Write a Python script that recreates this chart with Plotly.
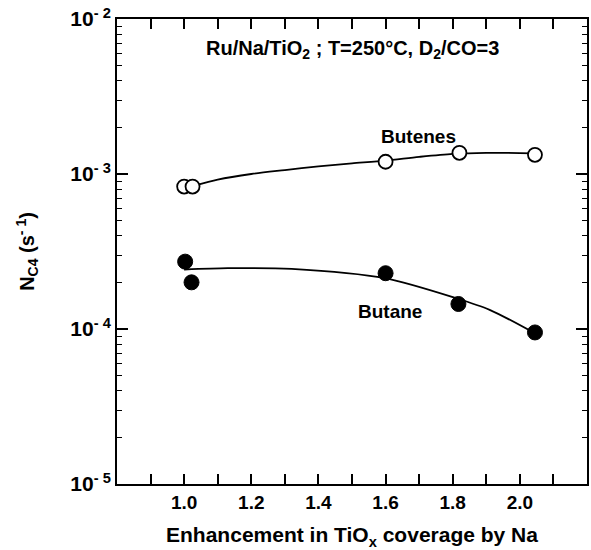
import plotly.graph_objects as go

# Measured points
butenes_x = [1.00, 1.025, 1.60, 1.82, 2.045]
butenes_y = [8.3e-4, 8.3e-4, 1.20e-3, 1.37e-3, 1.33e-3]
butane_x = [1.003, 1.022, 1.60, 1.817, 2.045]
butane_y = [2.72e-4, 2.0e-4, 2.29e-4, 1.45e-4, 9.5e-5]

# Fitted curves
butenes_fit_x = [1.03, 1.1, 1.2, 1.3, 1.4, 1.5, 1.6, 1.7, 1.8, 1.9, 2.04]
butenes_fit_y = [8.4e-4, 9.2e-4, 1.0e-3, 1.06e-3, 1.12e-3, 1.17e-3, 1.22e-3, 1.29e-3, 1.35e-3, 1.37e-3, 1.36e-3]
butane_fit_x = [1.00, 1.13, 1.32, 1.6, 1.81, 1.91, 2.04]
butane_fit_y = [2.42e-4, 2.47e-4, 2.44e-4, 2.12e-4, 1.58e-4, 1.33e-4, 9.5e-5]

x_tickvals = [1.0, 1.2, 1.4, 1.6, 1.8, 2.0]
x_ticktext = ["1.0", "1.2", "1.4", "1.6", "1.8", "2.0"]
y_tickvals = [1e-5, 1e-4, 1e-3, 1e-2]
y_ticktext = ["10<sup>- 5</sup>", "10<sup>- 4</sup>", "10<sup>- 3</sup>", "10<sup>- 2</sup>"]
y_minor_vals = [m * d for d in (1e-5, 1e-4, 1e-3) for m in range(2, 10)]

FONT = "Liberation Sans, Arial, sans-serif"

fig = go.Figure()
fig.add_trace(go.Scatter(x=butenes_fit_x, y=butenes_fit_y, mode="lines",
                         line=dict(color="black", width=1.8, shape="spline", smoothing=0.8), showlegend=False))
fig.add_trace(go.Scatter(x=butane_fit_x, y=butane_fit_y, mode="lines",
                         line=dict(color="black", width=1.8, shape="spline", smoothing=0.8), showlegend=False))
fig.add_trace(go.Scatter(x=butenes_x, y=butenes_y, mode="markers",
                         marker=dict(symbol="circle", size=14, color="white",
                                     line=dict(color="black", width=1.8)), showlegend=False))
fig.add_trace(go.Scatter(x=butane_x, y=butane_y, mode="markers",
                         marker=dict(symbol="circle", size=15, color="black",
                                     line=dict(color="black", width=1)), showlegend=False))

fig.add_annotation(x=0.5, xref="paper", y=0.935, yref="paper", yanchor="middle",
                   text="<b>Ru/Na/TiO<sub>2</sub> ; T=250°C, D<sub>2</sub>/CO=3</b>",
                   showarrow=False, font=dict(size=20, color="black", family=FONT))
fig.add_annotation(x=1.698, y=-2.755, text="<b>Butenes</b>", showarrow=False,
                   font=dict(size=19, color="black", family=FONT))
fig.add_annotation(x=1.614, y=-3.89, text="<b>Butane</b>", showarrow=False,
                   font=dict(size=19, color="black", family=FONT))

fig.update_xaxes(range=[0.8, 2.2], tickvals=x_tickvals, ticktext=[f"<b>{t}</b>" for t in x_ticktext],
                 ticks="inside", ticklen=10, tickwidth=1.6, tickcolor="black",
                 minor=dict(dtick=0.1, tick0=0.9, ticks="inside", ticklen=10, tickwidth=1.6, tickcolor="black"),
                 showline=True, linecolor="black", linewidth=2, mirror="allticks",
                 showgrid=False, zeroline=False,
                 tickfont=dict(size=19, color="black", family=FONT),
                 title=dict(text="<b>Enhancement in TiO<sub>x</sub> coverage by Na</b>",
                            font=dict(size=21, color="black", family=FONT), standoff=16))
fig.update_yaxes(type="log", range=[-5, -2], tickvals=y_tickvals,
                 ticktext=[f"<b>{t}</b>" for t in y_ticktext],
                 ticks="inside", ticklen=11, tickwidth=1.6, tickcolor="black",
                 minor=dict(tickvals=y_minor_vals, ticks="inside", ticklen=5, tickwidth=1.4,
                            tickcolor="black", showgrid=False),
                 showline=True, linecolor="black", linewidth=2, mirror="allticks",
                 showgrid=False, zeroline=False,
                 tickfont=dict(size=21, color="black", family=FONT),
                 title=dict(text="<b>N<sub>C4</sub> (s<sup>- 1</sup>)</b>",
                            font=dict(size=20, color="black", family=FONT), standoff=30))

fig.update_layout(width=591, height=550, margin=dict(l=117, r=2, t=19, b=66),
                  plot_bgcolor="white", paper_bgcolor="white")

fig.write_html("out.html")
